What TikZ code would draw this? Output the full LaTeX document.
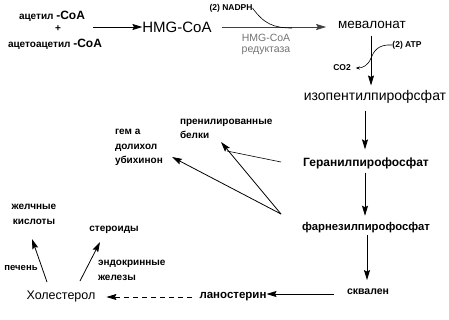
\documentclass[tikz,border=0pt]{standalone}
\usepackage{fontspec}
\setmainfont{Liberation Sans}
\usetikzlibrary{arrows.meta}
\begin{document}
\begin{tikzpicture}[x=1pt,y=-1pt,
  txt/.style={inner sep=0pt,outer sep=0pt,text=black},
  fsb/.style={font=\bfseries\fontsize{10}{14.5}\selectfont},
  fsmall/.style={font=\bfseries\fontsize{8.5}{10}\selectfont},
  arr/.style={line width=0.8pt,-{Stealth[length=10pt,width=6pt,inset=1.5pt]}},
  thin/.style={line width=0.6pt}]
\useasboundingbox (0,0) rectangle (449,319);
% texts
\node[txt,fsb] (ac) at (52,16) {ацетил \fontsize{12}{12}\selectfont-CoA};
\node[txt,fsb] (plus) at (58,29) {+};
\node[txt,fsb] (acac) at (55,44) {ацетоацетил \fontsize{12}{12}\selectfont-CoA};
\node[txt,font=\fontsize{15}{15}\selectfont] (hmg) at (177,27) {HMG-CoA};
\node[txt,fsmall] (nadph) at (231,8) {(2) NADPH};
\node[txt,text=black!55,font=\fontsize{10.5}{11}\selectfont,align=center] (red) at (266,44.5) {HMG-CoA\\редуктаза};
\node[txt,font=\fontsize{13.5}{14}\selectfont] (mev) at (372,25) {мевалонат};
\node[txt,fsmall] (atp) at (407,45) {(2) ATP};
\node[txt,fsmall] (co2) at (342,68) {CO2};
\node[txt,font=\fontsize{14}{14}\selectfont] (ipp) at (375,97) {изопентилпирофсфат};
\node[txt,fsb,align=left,anchor=west] (prenyl) at (180,129) {пренилированные\\белки};
\node[txt,fsb,align=left,anchor=west] (gem) at (115,147.5) {гем а\\долихол\\убихинон};
\node[txt,font=\bfseries\fontsize{12}{12}\selectfont] (ger) at (366,163) {Геранилпирофосфат};
\node[txt,font=\bfseries\fontsize{11.3}{12}\selectfont] (far) at (366,228) {фарнезилпирофосфат};
\node[txt,font=\bfseries\fontsize{10.5}{11}\selectfont] (sq) at (368,292) {сквален};
\node[txt,font=\bfseries\fontsize{11.5}{12}\selectfont] (lan) at (233,297) {ланостерин};
\node[txt,font=\fontsize{12.5}{13}\selectfont] (chol) at (61,296) {Холестерол};
\node[txt,fsb,align=center] (bile) at (34,214.5) {желчные\\кислоты};
\node[txt,fsb] (ster) at (114,230) {стероиды};
\node[txt,font=\bfseries\fontsize{9.5}{10}\selectfont] (liver) at (21,268) {печень};
\node[txt,fsb,align=left,anchor=west] (endo) at (98,270.5) {эндокринные\\железы};
% free ends
\coordinate (s1) at (93,27);
\coordinate (br) at (281,214);
\coordinate (br2) at (281,162);
\coordinate (tprenyl) at (221,142);
\coordinate (tprenylb) at (227,151);
\coordinate (tgem) at (172,157);
\coordinate (cb) at (47,282);
\coordinate (tbile) at (32,239);
\coordinate (cs) at (80,281);
\coordinate (tster) at (100,242);
% connectors
\draw[arr] (s1) -- (hmg.west);
\draw[arr,black!75,shorten <=10pt,shorten >=12pt] (hmg.east) -- (hmg.east -| mev.west);
\draw[thin] (nadph.east) .. controls (264,24) and (274,28) .. (292,28);
\draw[arr,shorten <=7pt,shorten >=5pt] ([xshift=-1pt]mev.south) -- ([xshift=-1pt]mev.south |- ipp.north);
\draw[thin,-{Stealth[length=4pt,width=3pt]}] (atp.west) .. controls (378,44) and (374,51) .. (371,58) .. controls (368,66) and (362,68) .. ([xshift=5pt]co2.east);
\draw[arr,shorten <=7pt,shorten >=8pt] ([xshift=-1pt]ger.north |- ipp.south) -- ([xshift=-1pt]ger.north);
\draw[arr,shorten <=4pt,shorten >=7pt] ([xshift=-1pt]ger.south) -- ([xshift=-1pt]ger.south |- far.north);
\draw[arr,shorten <=2pt,shorten >=9pt] ([xshift=1pt]far.south) -- ([xshift=1pt]far.south |- sq.north);
\draw[arr,shorten <=13pt] (sq.west |- 0,294) -- (lan.east |- 0,294);
\draw[arr,dashed,dash pattern=on 5pt off 4pt,shorten <=8pt,shorten >=11pt] (lan.west) -- (lan.west -| chol.east);
\draw[arr] (br) -- (tprenyl);
\draw[arr] (br) -- (tgem);
\draw[thin] (br2) -- (tprenylb);
\draw[arr] (cb) -- (tbile);
\draw[arr] (cs) -- (tster);
\end{tikzpicture}
\end{document}
